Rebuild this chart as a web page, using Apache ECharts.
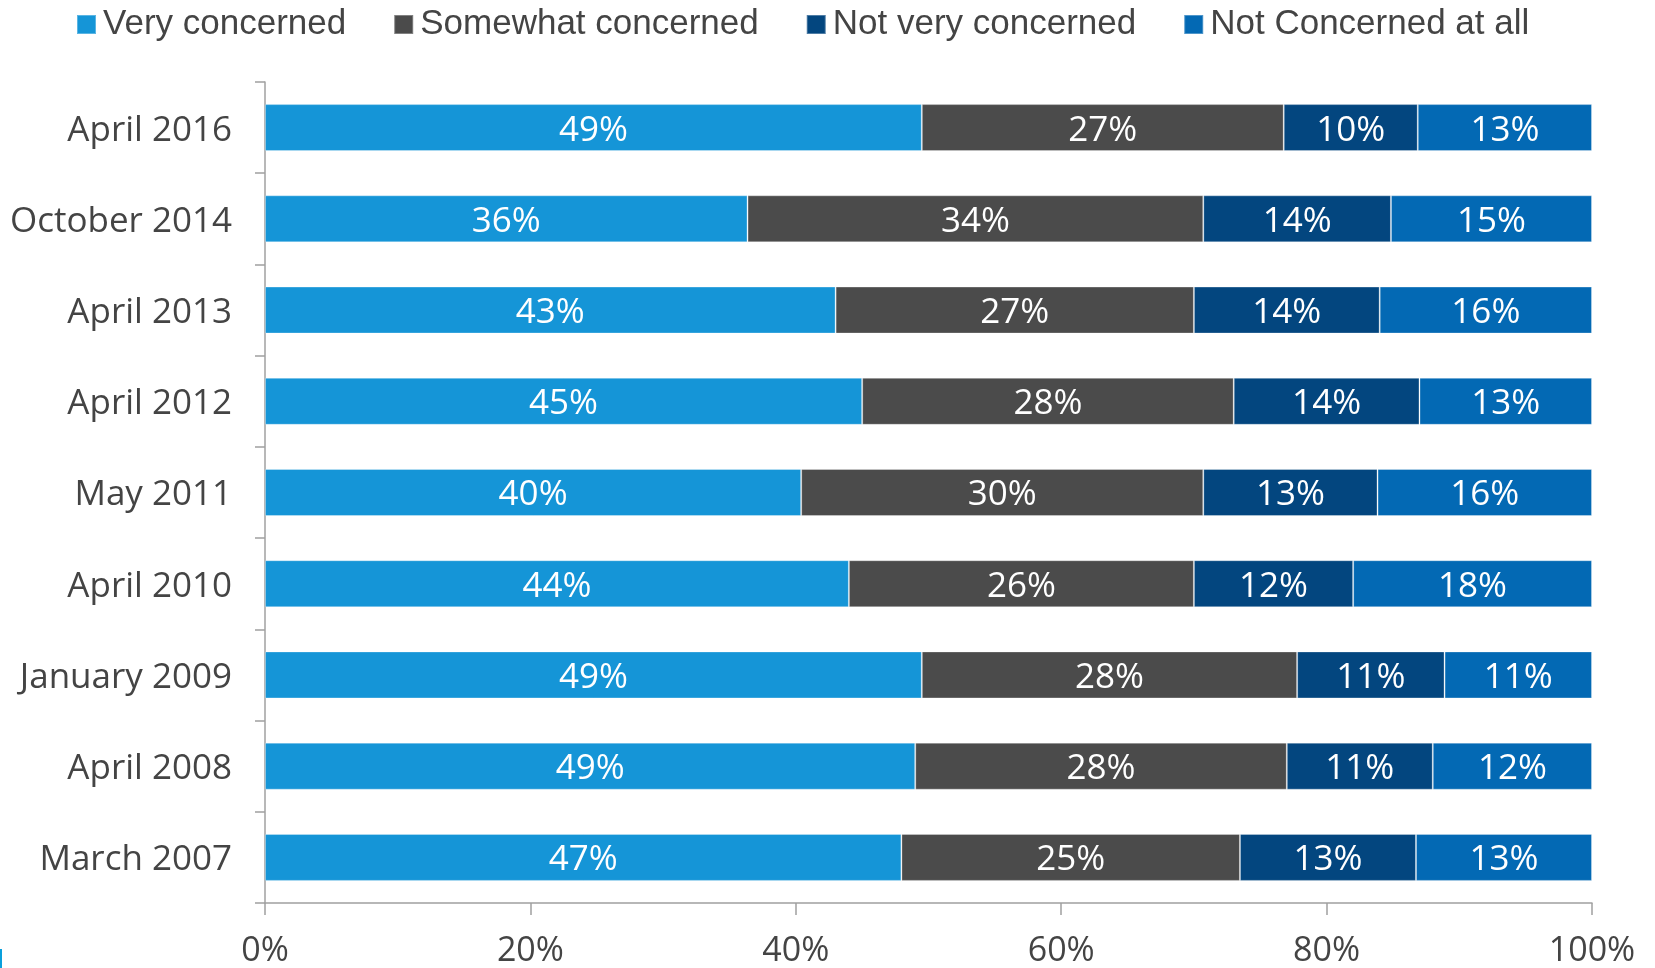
<!DOCTYPE html>
<html>
<head>
<meta charset="utf-8">
<title>Level of concern, 2007–2016</title>
<script src="https://cdn.jsdelivr.net/npm/echarts@6/dist/echarts.min.js"></script>
<style>
  html, body { margin: 0; padding: 0; background: #ffffff; }
  #chart { width: 1655px; height: 968px; }
</style>
</head>
<body>
<div id="chart"></div>
<script>
// Survey waves, top to bottom
const categories = ['April 2016', 'October 2014', 'April 2013', 'April 2012', 'May 2011',
                    'April 2010', 'January 2009', 'April 2008', 'March 2007'];

// Reported shares (%) for each answer
const veryConcerned     = [49, 36, 43, 45, 40, 44, 49, 49, 47];
const somewhatConcerned = [27, 34, 27, 28, 30, 26, 28, 28, 25];
const notVeryConcerned  = [10, 14, 14, 14, 13, 12, 11, 11, 13];
const notConcernedAtAll = [13, 15, 16, 13, 16, 18, 11, 12, 13];

const seriesNames = ['Very concerned', 'Somewhat concerned', 'Not very concerned', 'Not Concerned at all'];
const xTickLabels = ['0%', '20%', '40%', '60%', '80%', '100%'];

const colors = ['#1595d7', '#4b4b4b', '#03467f', '#0369b4'];
const textColor = '#444444';
const axisColor = '#a0a0a0';

const allSeries = [veryConcerned, somewhatConcerned, notVeryConcerned, notConcernedAtAll];
// Each bar is a 100% stack: segment length is its share of the row total
const rowTotals = categories.map((_, i) => allSeries.reduce((s, arr) => s + arr[i], 0));

const chart = echarts.init(document.getElementById('chart'), null, { renderer: 'canvas' });

chart.setOption({
  backgroundColor: '#ffffff',
  animation: false,
  color: colors,
  legend: {
    data: seriesNames,
    left: 76,
    top: 7,
    padding: 0,
    itemWidth: 19,
    itemHeight: 19,
    itemGap: 47,
    icon: 'rect',
    textStyle: {
      fontFamily: 'Liberation Sans',
      fontSize: 35,
      color: textColor,
      padding: [0, 0, 0, 2]
    }
  },
  grid: { left: 265, right: 63, top: 82, bottom: 64, containLabel: false },
  xAxis: {
    type: 'value',
    min: 0,
    max: 100,
    interval: 20,
    axisLine: { show: true, lineStyle: { color: axisColor, width: 1.5 } },
    axisTick: { show: true, length: 12, lineStyle: { color: axisColor, width: 1.5 } },
    splitLine: { show: false },
    axisLabel: {
      margin: 31,
      fontFamily: 'Open Sans',
      fontSize: 34,
      color: textColor,
      formatter: v => xTickLabels[Math.round(v / 20)]
    }
  },
  yAxis: {
    type: 'category',
    inverse: true,
    data: categories,
    axisLine: { show: true, lineStyle: { color: axisColor, width: 1.5 } },
    axisTick: { show: true, length: 10, lineStyle: { color: axisColor, width: 1.5 } },
    axisLabel: {
      margin: 33,
      formatter: v => '{cat|' + v + '}',
      rich: {
        cat: {
          fontFamily: 'Open Sans',
          fontSize: 35,
          color: textColor,
          padding: [6, 0, 0, 0]
        }
      }
    }
  },
  series: allSeries.map((arr, k) => ({
    name: seriesNames[k],
    type: 'bar',
    stack: 'total',
    barWidth: 47,
    itemStyle: { color: colors[k], borderColor: 'rgba(255,255,255,0.3)', borderWidth: 1 },
    label: {
      show: true,
      position: 'inside',
      offset: [0, 3],
      fontFamily: 'Open Sans',
      fontSize: 35,
      color: '#ffffff',
      formatter: p => p.data.raw + '%'
    },
    data: arr.map((v, i) => ({ value: v / rowTotals[i] * 100, raw: v }))
  })),
  graphic: [{
    type: 'rect',
    left: 0,
    top: 949,
    shape: { width: 2, height: 19 },
    style: { fill: '#0aa0dc' }
  }]
});
</script>
</body>
</html>
